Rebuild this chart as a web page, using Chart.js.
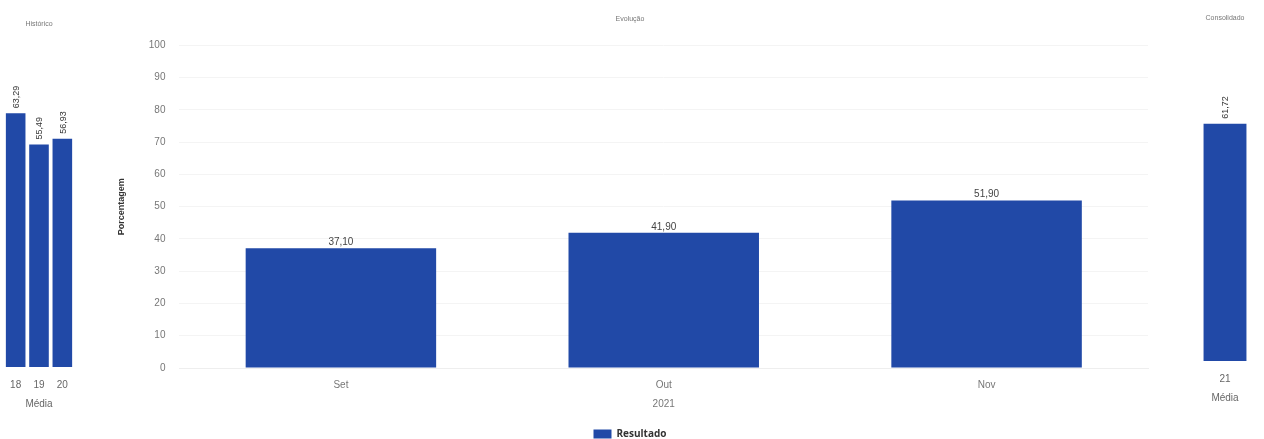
<!DOCTYPE html>
<html>
<head>
<meta charset="utf-8">
<script src="https://cdn.jsdelivr.net/npm/chart.js@4.4.0/dist/chart.umd.min.js"></script>
<style>
  html, body { margin: 0; padding: 0; background: #fff; }
  body { width: 1264px; height: 439px; position: relative; overflow: hidden; }
  .box { position: absolute; top: 0; height: 439px; }
  #histBox { left: 0; width: 82px; }
  #evoBox { left: 100px; width: 1062px; height: 449px; }
  #consBox { left: 1186px; width: 78px; }
</style>
</head>
<body>
<div class="box" id="histBox"><canvas id="histChart"></canvas></div>
<div class="box" id="evoBox"><canvas id="evoChart"></canvas></div>
<div class="box" id="consBox"><canvas id="consChart"></canvas></div>
<script>
// ============================================================================
// DATA
// ============================================================================

const histLabels = ['18', '19', '20'];
const histValues = [63.29, 55.49, 56.93];

const evoLabels = [['Set'], ['Out', '2021'], ['Nov']];
const evoValues = [37.10, 41.90, 51.90];
const evoTicks = [0, 10, 20, 30, 40, 50, 60, 70, 80, 90, 100];

const consLabels = ['21'];
const consValues = [61.72];

const BAR_BLUE = '#2149a7';
const FONT = '"Liberation Sans", Arial, sans-serif';

// ============================================================================
// VALUE LABEL PLUGIN
// ============================================================================

function fmt(v) {
    return v.toFixed(2).replace('.', ',');
}

const valueLabels = {
    id: 'valueLabels',
    afterDatasetsDraw(chart, args, opts) {
        const ctx = chart.ctx;
        const meta = chart.getDatasetMeta(0);
        const values = chart.data.datasets[0].data;
        ctx.save();
        ctx.fillStyle = opts.color || '#333';
        ctx.font = `${opts.size || 9}px ${FONT}`;
        meta.data.forEach((bar, i) => {
            const text = fmt(values[i]);
            if (opts.rotate) {
                ctx.save();
                ctx.translate(bar.x + 1, bar.y - 5);
                ctx.rotate(-Math.PI / 2);
                ctx.textAlign = 'left';
                ctx.textBaseline = 'middle';
                ctx.fillText(text, 0, 0);
                ctx.restore();
            } else {
                ctx.textAlign = 'center';
                ctx.textBaseline = 'bottom';
                ctx.fillText(text, bar.x, bar.y - 1);
            }
        });
        ctx.restore();
    }
};

// ============================================================================
// SIDE CHART (Histórico / Consolidado)
// ============================================================================

function sideChart(id, title, labels, values, barPct, titlePad, pad) {
    return new Chart(document.getElementById(id), {
        type: 'bar',
        data: {
            labels: labels,
            datasets: [{ label: 'Resultado', data: values, backgroundColor: BAR_BLUE, barPercentage: barPct, categoryPercentage: 1 }]
        },
        options: {
            responsive: true,
            maintainAspectRatio: false,
            animation: false,
            layout: { padding: pad },
            plugins: {
                legend: { display: false },
                tooltip: { enabled: false },
                title: {
                    display: true, text: title, color: '#777',
                    font: { family: FONT, size: 7, weight: 'normal' },
                    padding: titlePad
                },
                valueLabels: { rotate: true, size: 9, color: '#333' }
            },
            scales: {
                y: { display: false, min: 0, max: 80 },
                x: {
                    grid: { display: false },
                    border: { display: false },
                    ticks: { color: '#666', font: { family: FONT, size: 10 }, padding: 4 },
                    title: { display: true, text: 'Média', color: '#666', font: { family: FONT, size: 10 }, padding: { top: 3 } }
                }
            }
        },
        plugins: [valueLabels]
    });
}

sideChart('histChart', 'Histórico', histLabels, histValues, 0.84,
    { top: 20, bottom: 18 }, { top: 0, bottom: 25, left: 4, right: 8 });
sideChart('consChart', 'Consolidado', consLabels, consValues, 0.55,
    { top: 14, bottom: 31 }, { top: 0, bottom: 31, left: 0, right: 0 });

// ============================================================================
// EVOLUÇÃO CHART
// ============================================================================

new Chart(document.getElementById('evoChart'), {
    type: 'bar',
    data: {
        labels: evoLabels,
        datasets: [{ label: 'Resultado', data: evoValues, backgroundColor: BAR_BLUE, barPercentage: 0.59, categoryPercentage: 1 }]
    },
    options: {
        responsive: true,
        maintainAspectRatio: false,
        animation: false,
        layout: { padding: { top: 11, right: 14, left: 12, bottom: 0 } },
        plugins: {
            title: {
                display: true, text: 'Evolução', color: '#777',
                font: { family: FONT, size: 7, weight: 'normal' },
                padding: { top: 4, bottom: 22 }
            },
            legend: {
                position: 'bottom',
                labels: {
                    color: '#333', boxWidth: 18, boxHeight: 9,
                    font: { family: '"Open Sans", sans-serif', size: 10, weight: 'bold' },
                    padding: 15
                }
            },
            tooltip: { enabled: false },
            valueLabels: { rotate: false, size: 10, color: '#444' }
        },
        scales: {
            y: {
                min: 0, max: 100,
                afterBuildTicks: axis => { axis.ticks = evoTicks.map(v => ({ value: v })); },
                grid: { color: '#f4f4f4', drawTicks: false },
                border: { display: false },
                ticks: { color: '#777', font: { family: FONT, size: 10 }, padding: 14 },
                title: { display: true, text: 'Porcentagem', color: '#333', font: { family: FONT, size: 9, weight: 'bold' }, padding: { bottom: 8 } }
            },
            x: {
                grid: { display: false },
                border: { color: '#eee' },
                ticks: { color: '#777', font: { family: FONT, size: 10, lineHeight: 1.9 }, padding: 0 }
            }
        }
    },
    plugins: [valueLabels]
});
</script>
</body>
</html>
